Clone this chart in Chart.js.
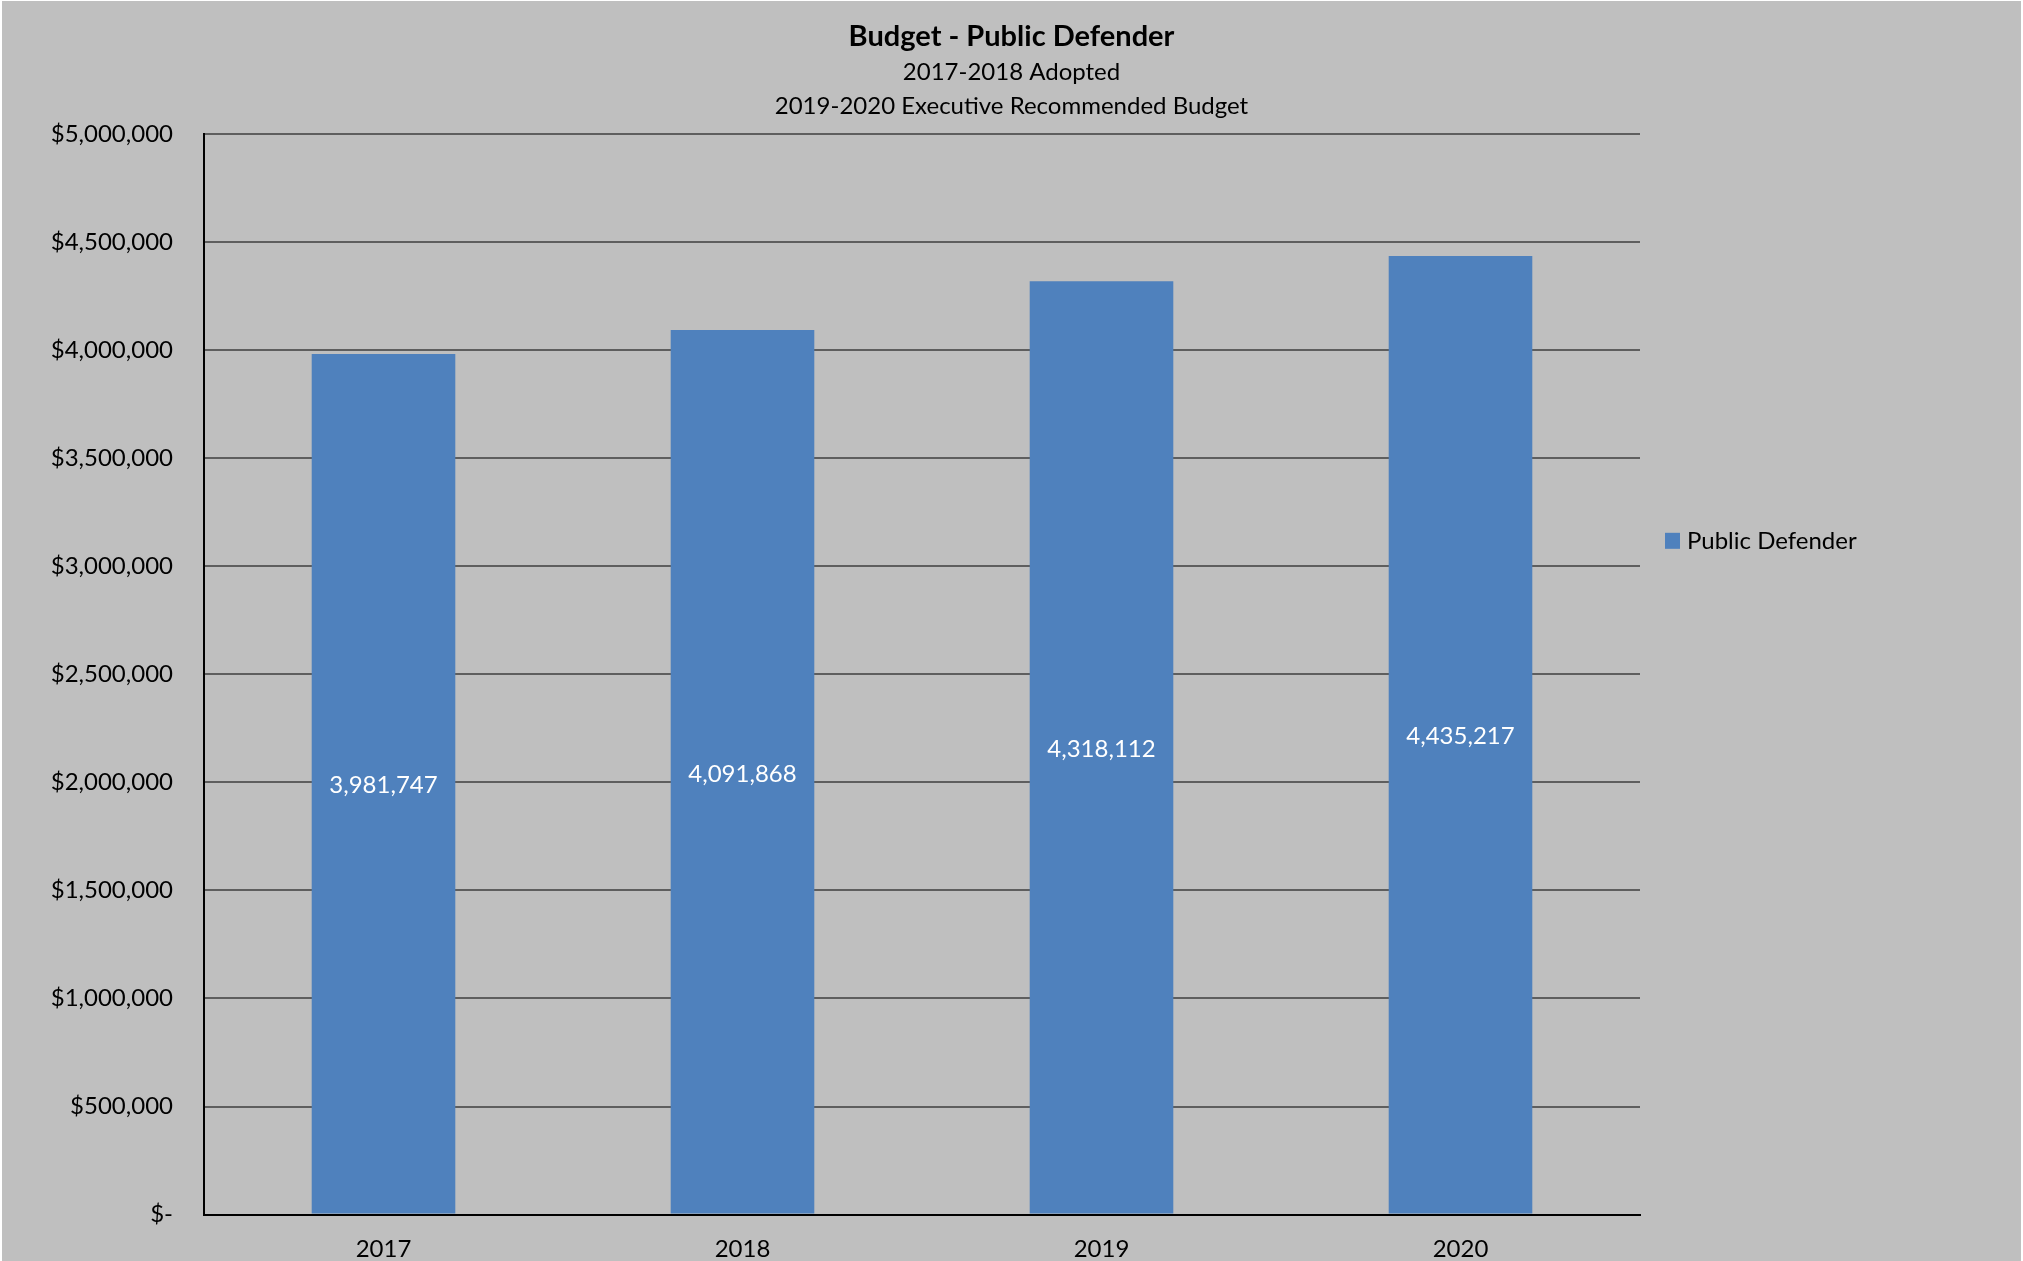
<!DOCTYPE html>
<html>
<head>
<meta charset="utf-8">
<script src="https://cdn.jsdelivr.net/npm/chart.js@4.4.0/dist/chart.umd.min.js"></script>
<style>
  body { margin: 0; background: #fff; }
  #wrap { position: absolute; left: 2px; top: 1px; width: 2019px; height: 1260px; background: #bfbfbf; }
  #budgetChart { display: block; }
</style>
</head>
<body>
<div id="wrap"><canvas id="budgetChart" width="2019" height="1260"></canvas></div>
<script>
// data
const years = ['2017', '2018', '2019', '2020'];
const budget = [3981747, 4091868, 4318112, 4435217];
const seriesName = 'Public Defender';
const titleText = 'Budget - Public Defender';
const subtitleLines = ['2017-2018 Adopted', '2019-2020 Executive Recommended Budget'];

const FONT = "Lato, 'Open Sans', sans-serif";
const barColor = '#4f81bd';

// label angka putih di tengah batang
const valueLabels = {
  id: 'valueLabels',
  afterDatasetsDraw(chart) {
    const ctx = chart.ctx;
    const meta = chart.getDatasetMeta(0);
    ctx.save();
    ctx.font = '24px ' + FONT;
    ctx.fillStyle = '#ffffff';
    ctx.textAlign = 'center';
    ctx.textBaseline = 'middle';
    meta.data.forEach((bar, i) => {
      const mid = (bar.y + bar.base) / 2;
      ctx.fillText(budget[i].toLocaleString('en-US'), bar.x, mid + 2);
    });
    ctx.restore();
  }
};

// legend manual di kanan
const sideLegend = {
  id: 'sideLegend',
  afterDraw(chart) {
    const ctx = chart.ctx;
    const area = chart.chartArea;
    const x = area.right + 25;
    const y = area.top + 407;
    ctx.save();
    ctx.fillStyle = barColor;
    ctx.fillRect(x, y - 8, 15, 16);
    ctx.fillStyle = '#000';
    ctx.font = '24px ' + FONT;
    ctx.textBaseline = 'middle';
    ctx.fillText(seriesName, x + 22, y);
    ctx.restore();
  }
};

const ctx = document.getElementById('budgetChart').getContext('2d');

new Chart(ctx, {
  type: 'bar',
  data: {
    labels: years,
    datasets: [{
      label: seriesName,
      data: budget,
      backgroundColor: barColor,
      borderWidth: 0,
      categoryPercentage: 1,
      barPercentage: 0.4
    }]
  },
  options: {
    responsive: false,
    animation: false,
    layout: { padding: { top: 0, left: 0, right: 0, bottom: -22 } },
    plugins: {
      legend: { display: false },
      tooltip: { enabled: false },
      title: {
        display: true,
        text: titleText,
        color: '#000',
        font: { family: FONT, size: 29, weight: 'bold', lineHeight: 1.2 },
        padding: { top: 18, bottom: 1 }
      },
      subtitle: {
        display: true,
        text: subtitleLines,
        color: '#000',
        font: { family: FONT, size: 24, lineHeight: 1.417 },
        padding: { top: 0, bottom: 11 }
      }
    },
    scales: {
      x: {
        grid: { display: false, drawTicks: false },
        border: { display: true, color: '#000', width: 2 },
        ticks: { color: '#000', padding: 21, font: { family: FONT, size: 24, lineHeight: 1.1 } }
      },
      y: {
        min: 0,
        max: 5000000,
        afterFit(scale) { scale.width = 202; },
        grid: { color: '#5e5e5e', lineWidth: 2, drawTicks: false },
        border: { display: true, color: '#000', width: 2 },
        ticks: {
          stepSize: 500000,
          color: '#000',
          padding: 31,
          font: { family: FONT, size: 24 },
          callback: v => v === 0 ? '$-' : '$' + v.toLocaleString('en-US')
        }
      },
      // ruang kosong kanan untuk legend
      side: {
        position: 'right',
        display: true,
        afterFit(scale) { scale.width = 381; },
        grid: { display: false, drawTicks: false },
        border: { display: false },
        ticks: { display: false }
      }
    }
  },
  plugins: [valueLabels, sideLegend]
});
</script>
</body>
</html>
